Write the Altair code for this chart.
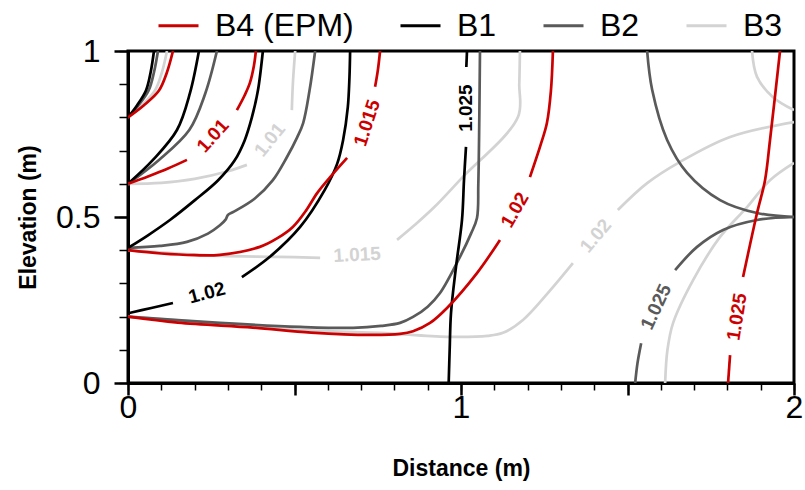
import altair as alt
import pandas as pd

series_names = ["B4 (EPM)", "B1", "B2", "B3"]
series_colors = ["#cc0000", "#000000", "#5a5a5a", "#d3d3d3"]

# ---- contour segments (x = distance m, y = elevation m) ----
# level 1.005
B1_1005 = [(0, 0.80), (0.027, 0.836), (0.054, 0.881), (0.068, 0.936), (0.078, 1.0)]
B2_1005 = [(0, 0.80), (0.031, 0.836), (0.062, 0.881), (0.078, 0.936), (0.090, 1.0)]
B3_1005 = [(0, 0.80), (0.041, 0.836), (0.081, 0.881), (0.102, 0.936), (0.117, 1.0)]
B4_1005 = [(0, 0.80), (0.047, 0.836), (0.093, 0.881), (0.117, 0.936), (0.135, 1.0)]
# level 1.01
B1_1010 = [(0, 0.60), (0.075, 0.672), (0.147, 0.762), (0.186, 0.873), (0.213, 1.0)]
B2_1010 = [(0, 0.60), (0.093, 0.672), (0.184, 0.762), (0.232, 0.872), (0.267, 1.0)]
B3_1010a = [(0, 0.60), (0.1, 0.603), (0.2, 0.615), (0.3, 0.638), (0.357, 0.657)]
B3_1010b = [(0.492, 0.822), (0.495, 0.9), (0.502, 1.0)]
B4_1010a = [(0, 0.60), (0.06, 0.622), (0.12, 0.646), (0.177, 0.672)]
B4_1010b = [(0.327, 0.822), (0.35, 0.866), (0.366, 0.904), (0.378, 0.955), (0.384, 1.0)]
# level 1.015
B1_1015 = [(0, 0.407), (0.06, 0.445), (0.126, 0.491), (0.2, 0.55), (0.27, 0.61),
           (0.32, 0.67), (0.35, 0.73), (0.372, 0.8), (0.39, 0.88), (0.405, 1.0)]
B2_1015 = [(0, 0.407), (0.096, 0.413), (0.177, 0.425), (0.24, 0.45), (0.276, 0.475),
           (0.293, 0.492), (0.30, 0.506), (0.318, 0.516), (0.38, 0.555), (0.435, 0.611),
           (0.477, 0.68), (0.508, 0.74), (0.526, 0.783), (0.545, 0.88), (0.562, 1.0)]
B3_1015a = [(0, 0.40), (0.15, 0.39), (0.276, 0.383), (0.45, 0.38), (0.577, 0.377)]
B3_1015b = [(0.808, 0.431), (0.86, 0.475), (0.92, 0.53), (1.0, 0.615), (1.171, 0.801),
            (1.175, 0.9), (1.177, 1.0)]
B4_1015a = [(0, 0.40), (0.1, 0.39), (0.2, 0.385), (0.276, 0.386), (0.396, 0.41),
            (0.45, 0.437), (0.495, 0.47), (0.535, 0.52), (0.568, 0.572), (0.607, 0.62),
            (0.658, 0.678)]
B4_1015b = [(0.742, 0.892), (0.75, 0.94), (0.757, 1.0)]
# level 1.02
B1_1020a = [(0, 0.21), (0.07, 0.226), (0.135, 0.241)]
B1_1020b = [(0.342, 0.319), (0.426, 0.38), (0.517, 0.47), (0.59, 0.58), (0.628, 0.66),
            (0.646, 0.732), (0.66, 0.83), (0.665, 0.92), (0.667, 1.0)]
B2_1020 = [(0, 0.20), (0.276, 0.181), (0.517, 0.169), (0.676, 0.166), (0.76, 0.172),
           (0.817, 0.181), (0.856, 0.199), (0.9, 0.23), (0.937, 0.271), (0.997, 0.38),
           (1.03, 0.45), (1.048, 0.497), (1.052, 0.6), (1.055, 0.8), (1.057, 1.0)]
B3_1020a = [(0, 0.20), (0.2, 0.185), (0.4, 0.168), (0.6, 0.156), (0.757, 0.151),
            (0.958, 0.139), (1.08, 0.142), (1.126, 0.151), (1.186, 0.19), (1.26, 0.27),
            (1.336, 0.361)]
B3_1020b = [(1.471, 0.521), (1.559, 0.602), (1.658, 0.666), (1.808, 0.741), (2.0, 0.786)]
B4_1020a = [(0, 0.20), (0.15, 0.182), (0.375, 0.167), (0.55, 0.152), (0.727, 0.145),
            (0.817, 0.148), (0.856, 0.156), (0.907, 0.181), (0.958, 0.226), (1.048, 0.331),
            (1.117, 0.431)]
B4_1020b = [(1.207, 0.62), (1.24, 0.72), (1.258, 0.783), (1.27, 0.88), (1.276, 1.0)]
# level 1.025
B1_1025a = [(1.018, 1.0), (1.016, 0.952)]
B1_1025b = [(1.015, 0.711), (1.009, 0.611), (1.003, 0.491), (0.985, 0.35), (0.97, 0.211),
            (0.966, 0.1), (0.963, 0.0)]
B2_1025a = [(1.523, 0.0), (1.53, 0.06), (1.541, 0.12)]
B2_1025b = [(1.643, 0.34), (1.709, 0.41), (1.787, 0.461), (1.889, 0.491), (2.0, 0.5)]
B2_1025c = [(1.559, 1.0), (1.574, 0.883), (1.619, 0.732), (1.679, 0.633), (1.778, 0.551),
            (1.889, 0.512), (2.0, 0.5)]
B3_1025a = [(1.613, 0.0), (1.62, 0.1), (1.637, 0.181), (1.697, 0.31), (1.778, 0.44),
            (1.859, 0.53), (1.928, 0.611), (2.0, 0.663)]
B3_1025b = [(1.874, 1.0), (1.889, 0.922), (1.937, 0.861), (2.0, 0.822)]
B4_1025a = [(1.802, 0.0), (1.808, 0.084)]
B4_1025b = [(1.847, 0.319), (1.889, 0.512), (1.913, 0.611), (1.928, 0.732), (1.958, 1.0)]

segments = [
    ("B3", B3_1005), ("B3", B3_1010a), ("B3", B3_1010b), ("B3", B3_1015a), ("B3", B3_1015b),
    ("B3", B3_1020a), ("B3", B3_1020b), ("B3", B3_1025a), ("B3", B3_1025b),
    ("B2", B2_1005), ("B2", B2_1010), ("B2", B2_1015), ("B2", B2_1020),
    ("B2", B2_1025a), ("B2", B2_1025b), ("B2", B2_1025c),
    ("B1", B1_1005), ("B1", B1_1010), ("B1", B1_1015), ("B1", B1_1020a), ("B1", B1_1020b),
    ("B1", B1_1025a), ("B1", B1_1025b),
    ("B4 (EPM)", B4_1005), ("B4 (EPM)", B4_1010a), ("B4 (EPM)", B4_1010b),
    ("B4 (EPM)", B4_1015a), ("B4 (EPM)", B4_1015b), ("B4 (EPM)", B4_1020a),
    ("B4 (EPM)", B4_1020b), ("B4 (EPM)", B4_1025a), ("B4 (EPM)", B4_1025b),
]

# ---- inline contour labels ----
label_text = ["1.01", "1.01", "1.015", "1.025", "1.02", "1.015", "1.02", "1.02", "1.025", "1.025"]
label_series = ["B4 (EPM)", "B3", "B4 (EPM)", "B1", "B1", "B3", "B4 (EPM)", "B3", "B2", "B4 (EPM)"]
label_x = [0.255, 0.426, 0.718, 1.015, 0.237, 0.688, 1.162, 1.405, 1.586, 1.829]
label_y = [0.744, 0.732, 0.783, 0.828, 0.271, 0.386, 0.521, 0.443, 0.229, 0.199]
label_angle = [312, 309, 288, 270, 345, 357, 300, 310, 295, 279]

# ---- axis ticks ----
x_major = [0, 0.5, 1, 1.5, 2]
x_minor = [round(i * 0.1, 1) for i in range(21)]
y_major = [0, 0.5, 1]
y_minor = [round(i * 0.1, 1) for i in range(11)]

rows = []
for sid, (s, pts) in enumerate(segments):
    for i, (x, y) in enumerate(pts):
        rows.append({"series": s, "seg": sid, "i": i, "x": x, "y": y})
df = pd.DataFrame(rows)

lab = pd.DataFrame({"text": label_text, "series": label_series, "x": label_x,
                    "y": label_y, "angle": label_angle})

FONT = "Liberation Sans"

x_axis = alt.Axis(
    orient="bottom", values=x_major,
    labelExpr="abs(datum.value - round(datum.value)) < 0.01 ? format(datum.value, 'd') : ''",
    tickSize=12, tickWidth=2.5,
    tickColor="black", domainColor="black", domainWidth=3,
    labelFont=FONT, labelFontSize=32, labelColor="black", labelPadding=-3,
    labelFlush=False, labelOverlap=False, grid=False,
    title="Distance (m)", titleFont=FONT, titleFontSize=23, titleFontWeight="bold",
    titleColor="black", titleX=333, titleY=85, titleBaseline="middle",
)
y_axis = alt.Axis(
    orient="left", values=y_major, format="~g",
    tickSize=14, tickWidth=2.5,
    tickColor="black", domainColor="black", domainWidth=3,
    labelFont=FONT, labelFontSize=32, labelColor="black", labelPadding=14,
    labelFlush=False, labelOverlap=False, grid=False,
    title="Elevation (m)", titleFont=FONT, titleFontSize=23, titleFontWeight="bold",
    titleColor="black", titleX=-100, titleY=166, titleAngle=270,
    titleBaseline="middle", titleAlign="center",
)
x_axis_minor = alt.Axis(orient="bottom", values=x_minor, labels=False, domain=False,
                        tickSize=7, tickWidth=1.5, tickColor="black", grid=False, title="")
y_axis_minor = alt.Axis(orient="left", values=y_minor, labels=False, domain=False,
                        tickSize=9, tickWidth=1.5, tickColor="black", grid=False, title="")

color_scale = alt.Scale(domain=series_names, range=series_colors)
xs = alt.Scale(domain=[0, 2], nice=False, zero=False)
ys = alt.Scale(domain=[0, 1], nice=False, zero=False)

lines = alt.Chart(df).mark_line(strokeWidth=2.7, clip=True, interpolate="catmull-rom").encode(
    x=alt.X("x:Q", scale=xs, axis=x_axis),
    y=alt.Y("y:Q", scale=ys, axis=y_axis),
    color=alt.Color("series:N", scale=color_scale, title=None,
                    legend=alt.Legend(orient="none", legendX=29, legendY=-47,
                                      direction="horizontal", columns=4,
                                      symbolType="stroke", symbolSize=1600,
                                      symbolStrokeWidth=3, labelFont=FONT,
                                      labelFontSize=32, labelColor="black",
                                      labelOffset=15, columnPadding=40, padding=0,
                                      labelLimit=300)),
    detail="seg:N",
    order="i:Q",
)

texts = alt.Chart(lab).mark_text(font=FONT, fontWeight="bold", fontSize=19,
                                 align="center", baseline="middle").encode(
    x=alt.X("x:Q", scale=xs, axis=x_axis_minor),
    y=alt.Y("y:Q", scale=ys, axis=y_axis_minor),
    text="text:N",
    angle=alt.Angle("angle:Q", scale=None),
    color=alt.Color("series:N", scale=color_scale, legend=None),
)

chart = alt.layer(lines, texts).resolve_axis(x="independent", y="independent").properties(
    width=666, height=332,
    padding={"left": 128, "top": 51, "right": 11, "bottom": 107},
    autosize="none",
).configure_view(stroke="black", strokeWidth=3)

chart.save("out.html", embed_options={"renderer": "svg", "actions": False})
